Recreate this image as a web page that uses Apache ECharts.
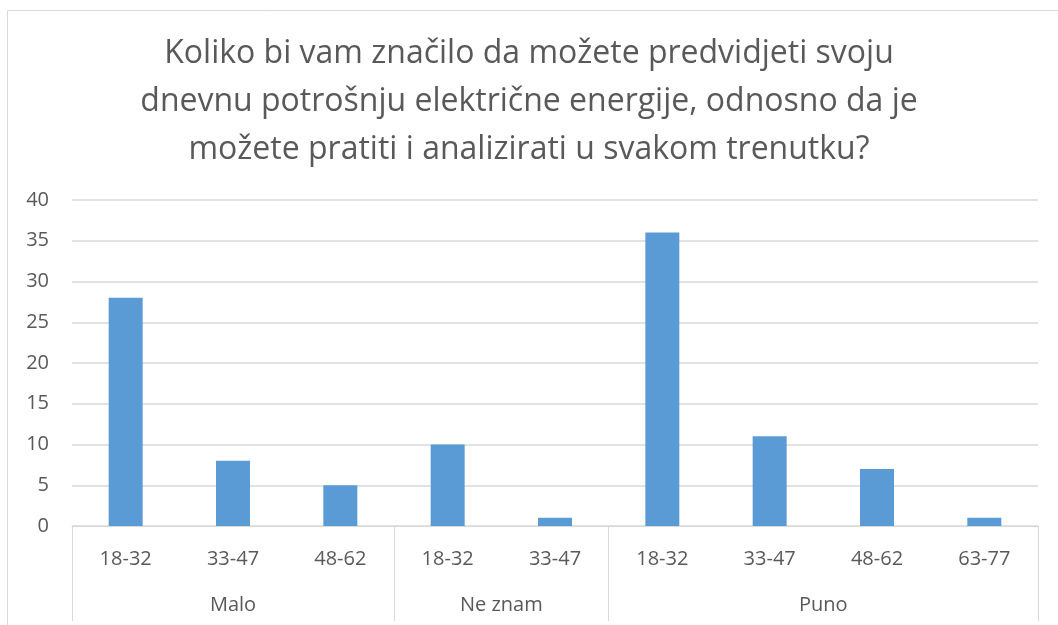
<!DOCTYPE html>
<html>
<head>
<meta charset="utf-8">
<script src="https://cdn.jsdelivr.net/npm/echarts@6/dist/echarts.min.js"></script>
<style>
  html, body { margin: 0; padding: 0; background: #fff; }
  #chart { width: 1058px; height: 625px; }
</style>
</head>
<body>
<div id="chart"></div>
<script>
// Age ranges (inner axis level) and answers (outer axis level)
const ageLabels = ['18-32', '33-47', '48-62', '18-32', '33-47', '18-32', '33-47', '48-62', '63-77'];
const groupNames = ['Malo', 'Ne znam', 'Puno'];
const groupSizes = [3, 2, 4];
const counts = [28, 8, 5, 10, 1, 36, 11, 7, 1];
const yTicks = [0, 5, 10, 15, 20, 25, 30, 35, 40];

const titleText = 'Koliko bi vam značilo da možete predvidjeti svoju\ndnevnu potrošnju električne energije, odnosno da je\nmožete pratiti i analizirati u svakom trenutku?';

// Group boundaries and centres in category units
const bounds = [0];
groupSizes.forEach(s => bounds.push(bounds[bounds.length - 1] + s));
const centres = groupSizes.map((s, i) => bounds[i] + s / 2);

const textColor = '#595959';
const lineColor = '#d9d9d9';
const font = '"Open Sans", sans-serif';

const chart = echarts.init(document.getElementById('chart'));
chart.setOption({
  animation: false,
  backgroundColor: '#fff',
  title: {
    text: titleText,
    left: 'center',
    top: 25,
    textStyle: { color: textColor, fontSize: 32, fontWeight: 'normal', fontFamily: font, lineHeight: 48 }
  },
  graphic: [{
    type: 'rect',
    shape: { x: 7.5, y: 10.5, width: 1200, height: 800 },
    style: { fill: 'none', stroke: lineColor, lineWidth: 1 },
    silent: true,
    z: -1
  }],
  grid: { left: 72, right: 20, top: 200, bottom: 99 },
  xAxis: [
    {
      type: 'category',
      data: ageLabels,
      axisLine: { show: true, lineStyle: { color: lineColor, width: 1 } },
      axisTick: { show: false },
      axisLabel: { color: textColor, fontSize: 20, fontFamily: font, margin: 23, interval: 0 },
      splitLine: { show: false }
    },
    {
      type: 'value',
      position: 'bottom',
      min: 0,
      max: ageLabels.length,
      axisLine: { show: false },
      axisTick: { show: true, customValues: bounds, length: 95, lineStyle: { color: lineColor, width: 1 } },
      axisLabel: {
        show: true,
        customValues: centres,
        color: textColor, fontSize: 20, fontFamily: font, margin: 69,
        formatter: v => {
          const i = centres.findIndex(c => Math.abs(c - v) < 1e-6);
          return i >= 0 ? groupNames[i] : '';
        }
      },
      splitLine: { show: false }
    }
  ],
  yAxis: {
    type: 'value',
    min: yTicks[0],
    max: yTicks[yTicks.length - 1],
    interval: yTicks[1] - yTicks[0],
    axisLine: { show: false },
    axisTick: { show: false },
    axisLabel: { color: textColor, fontSize: 20, fontFamily: font, margin: 23 },
    splitLine: { lineStyle: { color: lineColor, width: 1.5 } }
  },
  series: [{
    type: 'bar',
    xAxisIndex: 0,
    data: counts,
    barWidth: 34,
    itemStyle: { color: '#5B9BD5' }
  }]
});
</script>
</body>
</html>
